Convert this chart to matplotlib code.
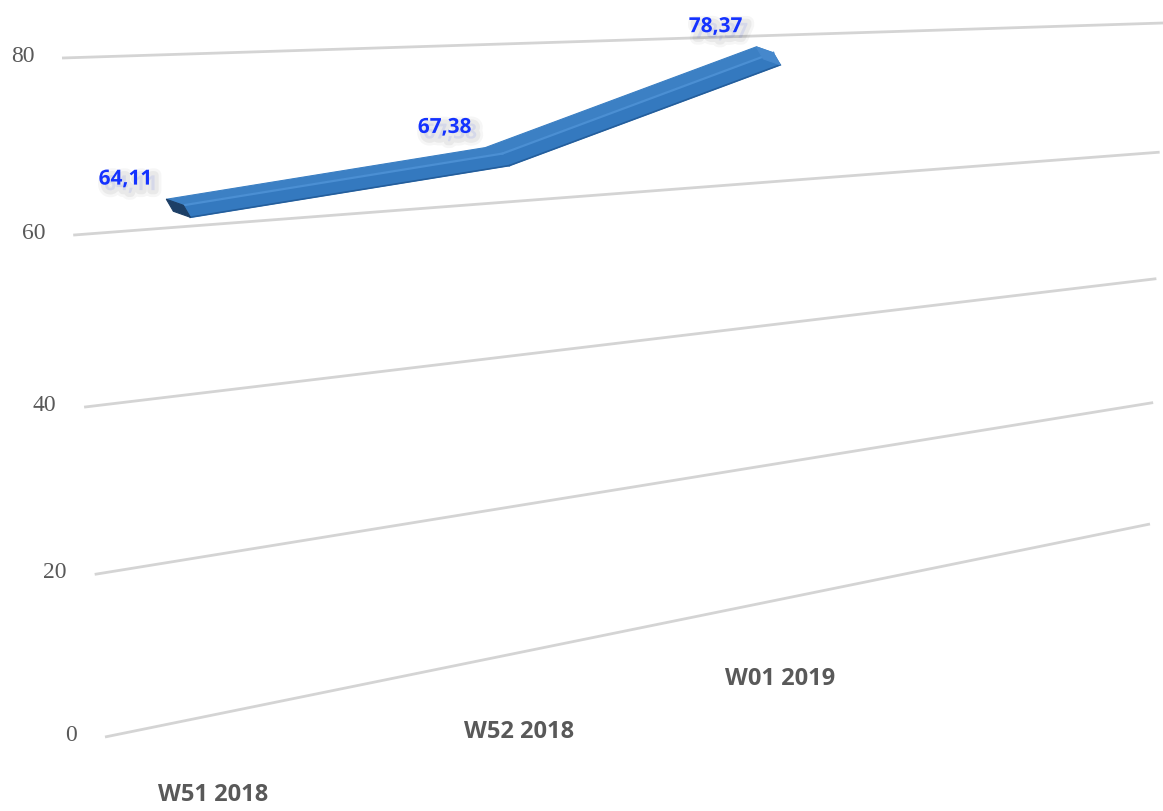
"""
Linha 3D em perspectiva (estilo Excel) - valores semanais W51 2018 .. W01 2019.
"""

import matplotlib
matplotlib.use("Agg")
import matplotlib.pyplot as plt
import matplotlib.patheffects as pe
import matplotlib.transforms as mtransforms
import numpy as np
from matplotlib.patches import Polygon

# ---------- dados ----------
categories = ["W51 2018", "W52 2018", "W01 2019"]
values = [64.11, 67.38, 78.37]
y_ticks = [0, 20, 40, 60, 80]

W, H = 1163, 812
X_MIN, X_MAX = -0.3, 3.75
V_MIN, V_MAX = 0, 80


def homography(src, dst):
    """Resolve a matriz 3x3 que leva os 4 pontos src nos 4 pontos dst."""
    A, b = [], []
    for (x, y), (u, v) in zip(src, dst):
        A.append([x, y, 1, 0, 0, 0, -u * x, -u * y]); b.append(u)
        A.append([0, 0, 0, x, y, 1, -v * x, -v * y]); b.append(v)
    h = np.linalg.solve(np.array(A, float), np.array(b, float))
    return np.append(h, 1.0).reshape(3, 3)


class Perspective(mtransforms.Transform):
    input_dims = output_dims = 2

    def __init__(self, M):
        super().__init__()
        self.M = M

    def transform_non_affine(self, values):
        v = np.atleast_2d(np.asarray(values, float))
        p = np.column_stack([v, np.ones(len(v))]) @ self.M.T
        return p[:, :2] / p[:, 2:3]


def frame(corners_px):
    """Cantos (em px da imagem, y para baixo) -> transform dados -> display."""
    src = [(X_MIN, V_MIN), (X_MAX, V_MIN), (X_MIN, V_MAX), (X_MAX, V_MAX)]
    dst = [(x / W, 1 - y / H) for x, y in corners_px]
    return Perspective(homography(src, dst)) + fig.transFigure


fig = plt.figure(figsize=(W / 100, H / 100), dpi=100)
ax = fig.add_axes([0, 0, 1, 1])
ax.set_axis_off()
ax.set_xlim(0, 1)
ax.set_ylim(0, 1)

# parede do fundo (grade) e plano da série, um pouco à frente
wall = frame([(105, 738), (1150, 525), (62, 59), (1163, 24)])
series = frame([(105, 756), (1146, 529), (62, 77), (1158, 27)])

for v in y_ticks:
    ax.plot([X_MIN, X_MAX], [v, v], transform=wall, color="#d4d4d4", lw=2.0,
            solid_capstyle="butt", zorder=1)
    ax.annotate(str(v), xy=(X_MIN, v), xycoords=wall, xytext=(-20, 2),
                textcoords="offset points", ha="right", va="center",
                fontsize=17, family="Liberation Serif", color="#595959")

for i, cat in enumerate(categories):
    ax.annotate(cat, xy=(i, 0), xycoords=wall, xytext=(4, -56),
                textcoords="offset points", ha="center", va="center",
                fontsize=17, fontweight="bold", family=["Open Sans", "DejaVu Sans"],
                color="#595959")

# ---------- fita 3D ----------
xs = np.arange(len(values))
center = series.transform(np.column_stack([xs, values]))  # coords de display (px)
ident = mtransforms.IdentityTransform()
px = fig.dpi / 100.0


def shift(pts, dx, dy):
    # dx para a direita, dy para baixo (px da imagem)
    return pts + np.array([dx * px, -dy * px])


back_top = shift(center, -12, -9)
front_top = shift(center, 5, -3)
front_bot = shift(center, 12, 9)
back_bot = shift(center, -5, 3)

for i in range(len(values) - 1):
    top = [back_top[i], back_top[i + 1], front_top[i + 1], front_top[i]]
    front = [front_top[i], front_top[i + 1], front_bot[i + 1], front_bot[i]]
    ax.add_patch(Polygon(top, closed=True, transform=ident,
                         fc="#3c80c4", ec="#3c80c4", lw=0.8, zorder=3))
    ax.add_patch(Polygon(front, closed=True, transform=ident,
                         fc="#3479bf", ec="#3479bf", lw=0.8, zorder=3))
    ax.plot([front_top[i][0], front_top[i + 1][0]], [front_top[i][1], front_top[i + 1][1]],
            transform=ident, color="#4b8fd3", lw=1.6, zorder=4)
    ax.plot([front_bot[i][0], front_bot[i + 1][0]], [front_bot[i][1], front_bot[i + 1][1]],
            transform=ident, color="#245e9c", lw=1.2, zorder=4)

# tampas das pontas
ax.add_patch(Polygon([back_top[0], front_top[0], front_bot[0], back_bot[0]], closed=True,
                     transform=ident, fc="#1d3f66", ec="#1d3f66", lw=0.8,
                     joinstyle="round", zorder=5))
ax.add_patch(Polygon([back_top[-1], front_top[-1], front_bot[-1], back_bot[-1]], closed=True,
                     transform=ident, fc="#4688cc", ec="#4688cc", lw=0.8, zorder=5))

# ---------- rótulos de dados ----------
shadow = [pe.Stroke(linewidth=10, foreground="#000000", alpha=0.035, offset=(4, -4)),
          pe.Stroke(linewidth=6, foreground="#000000", alpha=0.05, offset=(4, -4)),
          pe.Normal()]
for i, v in enumerate(values):
    ax.annotate(f"{v:.2f}".replace(".", ","), xy=(i, v), xycoords=series,
                xytext=(-38, 21), textcoords="offset points", ha="center", va="center",
                fontsize=15, fontweight="bold", family=["Open Sans", "DejaVu Sans"],
                color="#1432ff", path_effects=shadow, zorder=6)

fig.savefig("out.png", dpi=100, facecolor="white")
